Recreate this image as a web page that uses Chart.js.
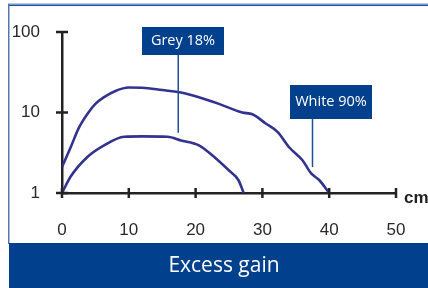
<!DOCTYPE html>
<html>
<head>
<meta charset="utf-8">
<script src="https://cdn.jsdelivr.net/npm/chart.js@4/dist/chart.umd.min.js"></script>
<style>
  body { margin: 0; background: #fff; }
  canvas { display: block; }
</style>
</head>
<body>
<canvas id="chart" width="428" height="288"></canvas>
<script>
// White 90% curve
const whiteX = [0, 1.3, 2.5, 3.8, 5, 6.3, 8, 10, 12, 15, 18, 20.5, 23.5, 27, 28.5, 30.5, 32.3, 34, 36, 37.3, 38.5, 40];
const whiteY = [2.1, 3.7, 6.4, 9.6, 12.8, 15.5, 18.5, 20.4, 20.3, 19, 17.6, 15.5, 12.8, 10, 9.5, 7.3, 5.7, 3.7, 2.55, 1.75, 1.45, 1];
// Grey 18% curve
const greyX = [0, 1.3, 3.8, 6.3, 9.3, 12, 15.8, 17.8, 20.5, 23, 25, 26.4, 27.2];
const greyY = [1, 1.6, 2.8, 3.9, 5, 5.05, 5, 4.5, 3.9, 2.7, 1.9, 1.45, 1];

const xTicks = [0, 10, 20, 30, 40, 50];
const yTicks = [1, 10, 100];

const navy = '#00408c';
const curveColor = '#33338f';

const frame = {
  id: 'frame',
  beforeDraw(chart) {
    const ctx = chart.ctx;
    ctx.save();
    ctx.fillStyle = '#fff';
    ctx.fillRect(0, 0, chart.width, chart.height);
    // outer border
    ctx.fillStyle = '#b9c9e2';
    ctx.fillRect(8, 3, chart.width - 8, 1.5);
    ctx.fillStyle = '#1f4f9a';
    ctx.fillRect(8, 4.5, chart.width - 8, 1.5);
    ctx.fillStyle = '#5577b0';
    ctx.fillRect(8, 4, 1.5, 240);
    // banner
    ctx.fillStyle = navy;
    ctx.fillRect(9, 243, chart.width - 9, chart.height - 243);
    ctx.fillStyle = '#fff';
    ctx.font = '21px "Open Sans"';
    ctx.textAlign = 'center';
    ctx.textBaseline = 'middle';
    ctx.fillText('Excess gain', 224, 266);
    ctx.restore();
  },
  afterDraw(chart) {
    const ctx = chart.ctx;
    const xs = chart.scales.x, ys = chart.scales.y;
    const area = chart.chartArea;
    ctx.save();
    ctx.strokeStyle = '#222';
    ctx.lineWidth = 2.5;
    ctx.beginPath();
    xTicks.forEach(v => {
      const px = xs.getPixelForValue(v);
      ctx.moveTo(px, area.bottom - 5);
      ctx.lineTo(px, area.bottom + 5);
    });
    yTicks.forEach(v => {
      const py = ys.getPixelForValue(v);
      ctx.moveTo(area.left - 6, py);
      ctx.lineTo(area.left + 6, py);
    });
    ctx.stroke();
    // unit
    ctx.fillStyle = '#222';
    ctx.font = 'bold 17px "Liberation Sans"';
    ctx.textAlign = 'left';
    ctx.textBaseline = 'alphabetic';
    ctx.fillText('cm', area.right + 8, area.bottom + 10);

    // callout boxes
    const callouts = [
      { text: 'Grey 18%', x: 17.4, y: 5.6, box: [142, 27, 82, 28] },
      { text: 'White 90%', x: 37.5, y: 2.1, box: [290, 85, 82, 34] }
    ];
    callouts.forEach(c => {
      const [bx, by, bw, bh] = c.box;
      const px = xs.getPixelForValue(c.x);
      const py = ys.getPixelForValue(c.y);
      ctx.strokeStyle = '#1f4f9a';
      ctx.lineWidth = 1.5;
      ctx.beginPath();
      ctx.moveTo(px, by + bh);
      ctx.lineTo(px, py);
      ctx.stroke();
      ctx.fillStyle = navy;
      ctx.fillRect(bx, by, bw, bh);
      ctx.fillStyle = '#fff';
      ctx.font = '14.5px "Open Sans"';
      ctx.textAlign = 'center';
      ctx.textBaseline = 'middle';
      ctx.fillText(c.text, bx + bw / 2, by + bh / 2);
    });
    ctx.restore();
  }
};

const toPoints = (xs, ys) => xs.map((x, i) => ({ x, y: ys[i] }));

new Chart(document.getElementById('chart'), {
  type: 'line',
  data: {
    datasets: [
      {
        label: 'White 90%',
        data: toPoints(whiteX, whiteY),
        borderColor: curveColor,
        borderWidth: 2.6,
        pointRadius: 0,
        cubicInterpolationMode: 'monotone'
      },
      {
        label: 'Grey 18%',
        data: toPoints(greyX, greyY),
        borderColor: curveColor,
        borderWidth: 2.6,
        pointRadius: 0,
        cubicInterpolationMode: 'monotone'
      }
    ]
  },
  options: {
    responsive: false,
    animation: false,
    layout: { padding: { top: 32, right: 32, bottom: 45, left: 0 } },
    plugins: { legend: { display: false }, tooltip: { enabled: false } },
    scales: {
      x: {
        type: 'linear',
        min: 0,
        max: 50,
        afterBuildTicks: s => { s.ticks = xTicks.map(v => ({ value: v })); },
        afterFit: s => { s.height = 50; },
        grid: { display: false },
        border: { display: true, color: '#222', width: 2.5 },
        ticks: { color: '#2a2a2a', padding: 19, font: { family: '"Liberation Sans"', size: 17 } }
      },
      y: {
        type: 'logarithmic',
        min: 1,
        max: 100,
        afterBuildTicks: s => { s.ticks = yTicks.map(v => ({ value: v })); },
        afterFit: s => { s.width = 62; },
        grid: { display: false },
        border: { display: true, color: '#222', width: 2.5 },
        ticks: {
          color: '#2a2a2a',
          padding: 14,
          font: { family: '"Liberation Sans"', size: 17 },
          callback: v => String(v)
        }
      }
    }
  },
  plugins: [frame]
});
</script>
</body>
</html>
